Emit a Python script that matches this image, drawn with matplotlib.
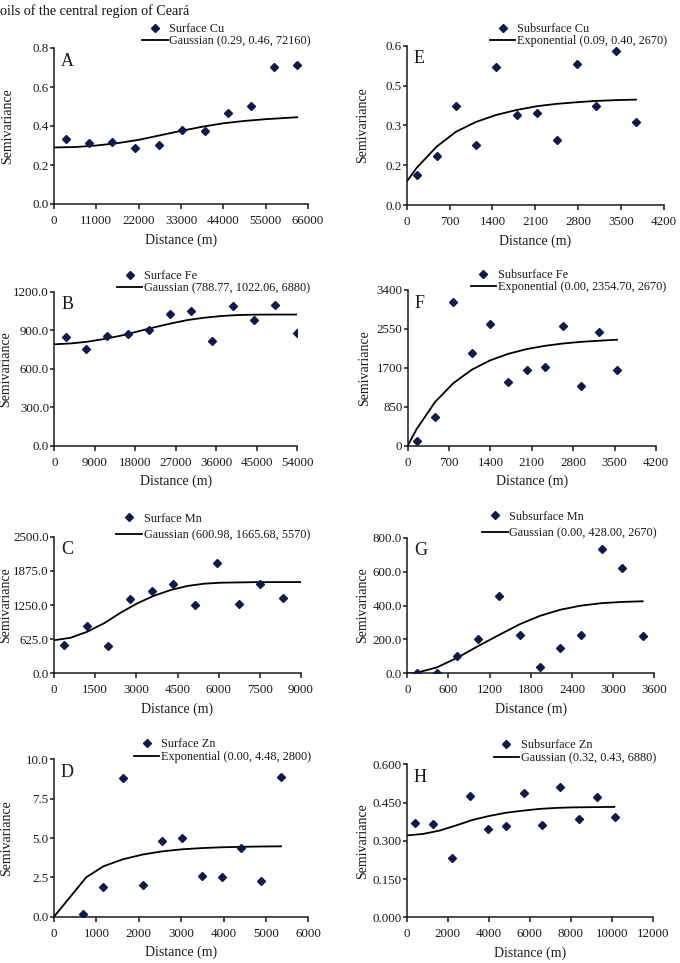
import matplotlib
matplotlib.use("Agg")
import matplotlib.pyplot as plt
from matplotlib.lines import Line2D

plt.rcParams['font.family'] = ['Liberation Serif', 'DejaVu Serif']

# ---------------- data ----------------
title_text = "oils of the central region of Ceará"

# A: Surface Cu
cu_s_lag = [3100, 9100, 15200, 21100, 27200, 33200, 39200, 45200, 51300, 57200, 63200]
cu_s_gam = [0.334, 0.315, 0.320, 0.286, 0.305, 0.377, 0.372, 0.469, 0.500, 0.701, 0.711]
cu_s_fit_x = [0, 5500, 11000, 16500, 22000, 27500, 33000, 38500, 44000, 49500, 55000, 60000, 63200]
cu_s_fit_y = [0.290, 0.292, 0.300, 0.312, 0.329, 0.352, 0.375, 0.396, 0.414, 0.426, 0.435, 0.441, 0.445]

# E: Subsurface Cu
cu_b_lag = [163, 490, 805, 1132, 1458, 1795, 2122, 2448, 2775, 3090, 3416, 3743]
cu_b_gam = [0.113, 0.186, 0.374, 0.225, 0.518, 0.339, 0.345, 0.246, 0.530, 0.372, 0.580, 0.311]
cu_b_fit_x = [0, 163, 490, 805, 1132, 1458, 1795, 2122, 2448, 2775, 3090, 3416, 3743]
cu_b_fit_y = [0.088, 0.140, 0.220, 0.276, 0.313, 0.339, 0.358, 0.372, 0.381, 0.387, 0.392, 0.395, 0.397]

# B: Surface Fe
fe_s_lag = [2500, 7000, 11800, 16400, 21100, 25800, 30400, 35000, 39700, 44400, 49100, 53900]
fe_s_gam = [849, 751, 855, 870, 904, 1026, 1047, 813, 1088, 977, 1096, 875]
fe_s_fit_x = [0, 3700, 7330, 11000, 14740, 18400, 22150, 25850, 29560, 33260, 36960, 40660, 44370, 49000, 53770]
fe_s_fit_y = [790, 797, 810, 831, 857, 889, 922, 952, 979, 997, 1010, 1018, 1021, 1022, 1022]

# F: Subsurface Fe
fe_b_lag = [152, 462, 772, 1082, 1393, 1703, 2013, 2317, 2621, 2926, 3230, 3540]
fe_b_gam = [102, 633, 3145, 2031, 2657, 1383, 1645, 1718, 2621, 1303, 2483, 1645]
fe_b_fit_x = [0, 152, 462, 772, 1082, 1393, 1703, 2013, 2317, 2621, 2926, 3230, 3540]
fe_b_fit_y = [0, 365, 953, 1365, 1658, 1863, 2007, 2110, 2180, 2231, 2267, 2292, 2315]

# C: Surface Mn
mn_s_lag = [377, 1190, 1980, 2781, 3571, 4348, 5150, 5939, 6729, 7518, 8332]
mn_s_gam = [518, 872, 500, 1360, 1512, 1640, 1244, 2024, 1262, 1640, 1372]
mn_s_fit_x = [0, 600, 1214, 1822, 2429, 3036, 3644, 4251, 4858, 5466, 6073, 7287, 9000]
mn_s_fit_y = [605, 650, 761, 915, 1109, 1281, 1420, 1524, 1598, 1640, 1658, 1668, 1670]

# G: Subsurface Mn
mn_b_lag = [136, 432, 729, 1030, 1336, 1642, 1934, 2230, 2526, 2837, 3129, 3430]
mn_b_gam = [0, 2, 104, 200, 456, 228, 39, 147, 228, 731, 623, 218]
mn_b_fit_x = [0, 136, 432, 729, 1030, 1336, 1642, 1934, 2230, 2526, 2837, 3129, 3430]
mn_b_fit_y = [0, 3, 35, 92, 160, 226, 290, 339, 375, 399, 414, 421, 425]

# D: Surface Zn
zn_s_lag = [692, 1164, 1628, 2092, 2548, 3012, 3492, 3956, 4420, 4892, 5355]
zn_s_gam = [0.19, 1.91, 8.79, 2.01, 4.79, 4.98, 2.61, 2.50, 4.36, 2.27, 8.90]
zn_s_fit_x = [0, 760, 1164, 1628, 2092, 2548, 3012, 3492, 3956, 4420, 4892, 5355]
zn_s_fit_y = [0, 2.50, 3.20, 3.65, 3.95, 4.15, 4.28, 4.36, 4.41, 4.44, 4.46, 4.47]

# H: Subsurface Zn
zn_b_lag = [423, 1301, 2195, 3073, 3967, 4846, 5724, 6618, 7496, 8390, 9268, 10146]
zn_b_gam = [0.370, 0.366, 0.233, 0.474, 0.346, 0.357, 0.486, 0.363, 0.510, 0.384, 0.471, 0.392]
zn_b_fit_x = [0, 800, 1600, 2400, 3220, 4000, 4840, 5650, 6470, 7300, 8090, 9100, 10130]
zn_b_fit_y = [0.321, 0.327, 0.340, 0.360, 0.382, 0.397, 0.410, 0.418, 0.425, 0.429, 0.431, 0.432, 0.433]

# ticks
a_xt = [0, 11000, 22000, 33000, 44000, 55000, 66000]
a_yt = [0.0, 0.2, 0.4, 0.6, 0.8]
a_ytl = ['0.0', '0.2', '0.4', '0.6', '0.8']
e_xt = [0, 700, 1400, 2100, 2800, 3500, 4200]
e_yt = [0.0, 0.15, 0.30, 0.45, 0.60]
e_ytl = ['0.0', '0.2', '0.3', '0.5', '0.6']
b_xt = [0, 9000, 18000, 27000, 36000, 45000, 54000]
b_yt = [0, 300, 600, 900, 1200]
b_ytl = ['0.0', '300.0', '600.0', '900.0', '1200.0']
f_xt = [0, 700, 1400, 2100, 2800, 3500, 4200]
f_yt = [0, 850, 1700, 2550, 3400]
f_ytl = ['0', '850', '1700', '2550', '3400']
c_xt = [0, 1500, 3000, 4500, 6000, 7500, 9000]
c_yt = [0, 625, 1250, 1875, 2500]
c_ytl = ['0.0', '625.0', '1250.0', '1875.0', '2500.0']
g_xt = [0, 600, 1200, 1800, 2400, 3000, 3600]
g_yt = [0, 200, 400, 600, 800]
g_ytl = ['0.0', '200.0', '400.0', '600.0', '800.0']
d_xt = [0, 1000, 2000, 3000, 4000, 5000, 6000]
d_yt = [0, 2.5, 5.0, 7.5, 10.0]
d_ytl = ['0.0', '2.5', '5.0', '7.5', '10.0']
h_xt = [0, 2000, 4000, 6000, 8000, 10000, 12000]
h_yt = [0, 0.15, 0.30, 0.45, 0.60]
h_ytl = ['0.000', '0.150', '0.300', '0.450', '0.600']

# ---------------- layout ----------------
W, H = 680, 963
fig = plt.figure(figsize=(W / 100, H / 100), dpi=100)
navy = '#0d1b4b'
ink = '#1a1a1a'

panels = [
    ('A', 'Surface Cu', 'Gaussian (0.29, 0.46, 72160)', cu_s_lag, cu_s_gam, cu_s_fit_x, cu_s_fit_y,
     a_xt, a_yt, a_ytl, (54, 308, 48, 204), (311, 47, 0.0), 8),
    ('E', 'Subsurface Cu', 'Exponential (0.09, 0.40, 2670)', cu_b_lag, cu_b_gam, cu_b_fit_x, cu_b_fit_y,
     e_xt, e_yt, e_ytl, (406.7, 664, 45.7, 205), (667, 47, 0.0), 363),
    ('B', 'Surface Fe', 'Gaussian (788.77, 1022.06, 6880)', fe_s_lag, fe_s_gam, fe_s_fit_x, fe_s_fit_y,
     b_xt, b_yt, b_ytl, (54.3, 297.3, 291.7, 445.7), (310, 294, 0.0), 6),
    ('F', 'Subsurface Fe', 'Exponential (0.00, 2354.70, 2670)', fe_b_lag, fe_b_gam, fe_b_fit_x, fe_b_fit_y,
     f_xt, f_yt, f_ytl, (407.7, 656, 290, 445.7), (666, 293, 0.0), 365),
    ('C', 'Surface Mn', 'Gaussian (600.98, 1665.68, 5570)', mn_s_lag, mn_s_gam, mn_s_fit_x, mn_s_fit_y,
     c_xt, c_yt, c_ytl, (54, 301, 536.7, 673.3), (310, 541, 0.35), 6),
    ('G', 'Subsurface Mn', 'Gaussian (0.00, 428.00, 2670)', mn_b_lag, mn_b_gam, mn_b_fit_x, mn_b_fit_y,
     g_xt, g_yt, g_ytl, (407.3, 654.3, 537.7, 673.3), (657, 539, 0.35), 363),
    ('D', 'Surface Zn', 'Exponential (0.00, 4.48, 2800)', zn_s_lag, zn_s_gam, zn_s_fit_x, zn_s_fit_y,
     d_xt, d_yt, d_ytl, (54, 308.3, 759.3, 916.7), (311, 763, 0.1), 7),
    ('H', 'Subsurface Zn', 'Gaussian (0.32, 0.43, 6880)', zn_b_lag, zn_b_gam, zn_b_fit_x, zn_b_fit_y,
     h_xt, h_yt, h_ytl, (406.7, 652.7, 764.3, 917.3), (656, 764, 0.1), 363),
]

fig.text(0, 1 - 11 / H, title_text, ha='left', va='center', fontsize=10.2, color='#111111')

for (letter, slab, mlab, lag, gam, fx, fy, xt, yt, ytl, box, leg, ylx) in panels:
    l, r, t, b = box
    ax = fig.add_axes([l / W, 1 - b / H, (r - l) / W, (b - t) / H])
    ax.plot(fx, fy, color='black', lw=1.3, zorder=2)
    ax.plot(lag, gam, ls='none', marker='D', ms=3.8, color=navy, mec=navy, zorder=3)
    ax.set_xlim(xt[0], xt[-1])
    ax.set_ylim(yt[0], yt[-1])
    ax.set_xticks(xt)
    ax.set_xticklabels([str(v) for v in xt])
    ax.set_yticks(yt)
    ax.set_yticklabels(ytl)
    for s in ('top', 'right'):
        ax.spines[s].set_visible(False)
    for s in ('left', 'bottom'):
        ax.spines[s].set_linewidth(1.1)
        ax.spines[s].set_color(ink)
    ax.tick_params(axis='x', direction='out', length=3.5, width=1.1, labelsize=9.4, pad=4.5, colors=ink)
    ax.tick_params(axis='y', direction='out', length=3, width=1.1, labelsize=9.4, pad=0.8, colors=ink)
    ax.patch.set_visible(False)

    ax.set_xlabel('Distance (m)', fontsize=10, va='center', color=ink)
    ax.xaxis.set_label_coords(0.5, -36 / (b - t))
    ax.set_ylabel('Semivariance', fontsize=10, va='center', color=ink)
    ax.yaxis.set_label_coords((ylx - l) / (r - l), 0.5)

    ax.annotate(letter, xy=(0, 1), xycoords='axes fraction', xytext=(7 * 0.72, -13 * 0.72),
                textcoords='offset points', ha='left', va='center', fontsize=13, color=ink)

    lr, lb, lsp = leg
    handles = [Line2D([], [], ls='none', marker='D', ms=3.8, color=navy),
               Line2D([], [], color='black', lw=1.3)]
    lg = ax.legend(handles, [slab, mlab], loc='lower right', bbox_to_anchor=(lr / W, 1 - lb / H),
                   bbox_transform=fig.transFigure, frameon=False, fontsize=8.8, handlelength=2.1,
                   handletextpad=0.12, labelspacing=lsp, borderpad=0, borderaxespad=0)
    for txt in lg.get_texts():
        txt.set_color(ink)

fig.savefig('out.png', dpi=100)
